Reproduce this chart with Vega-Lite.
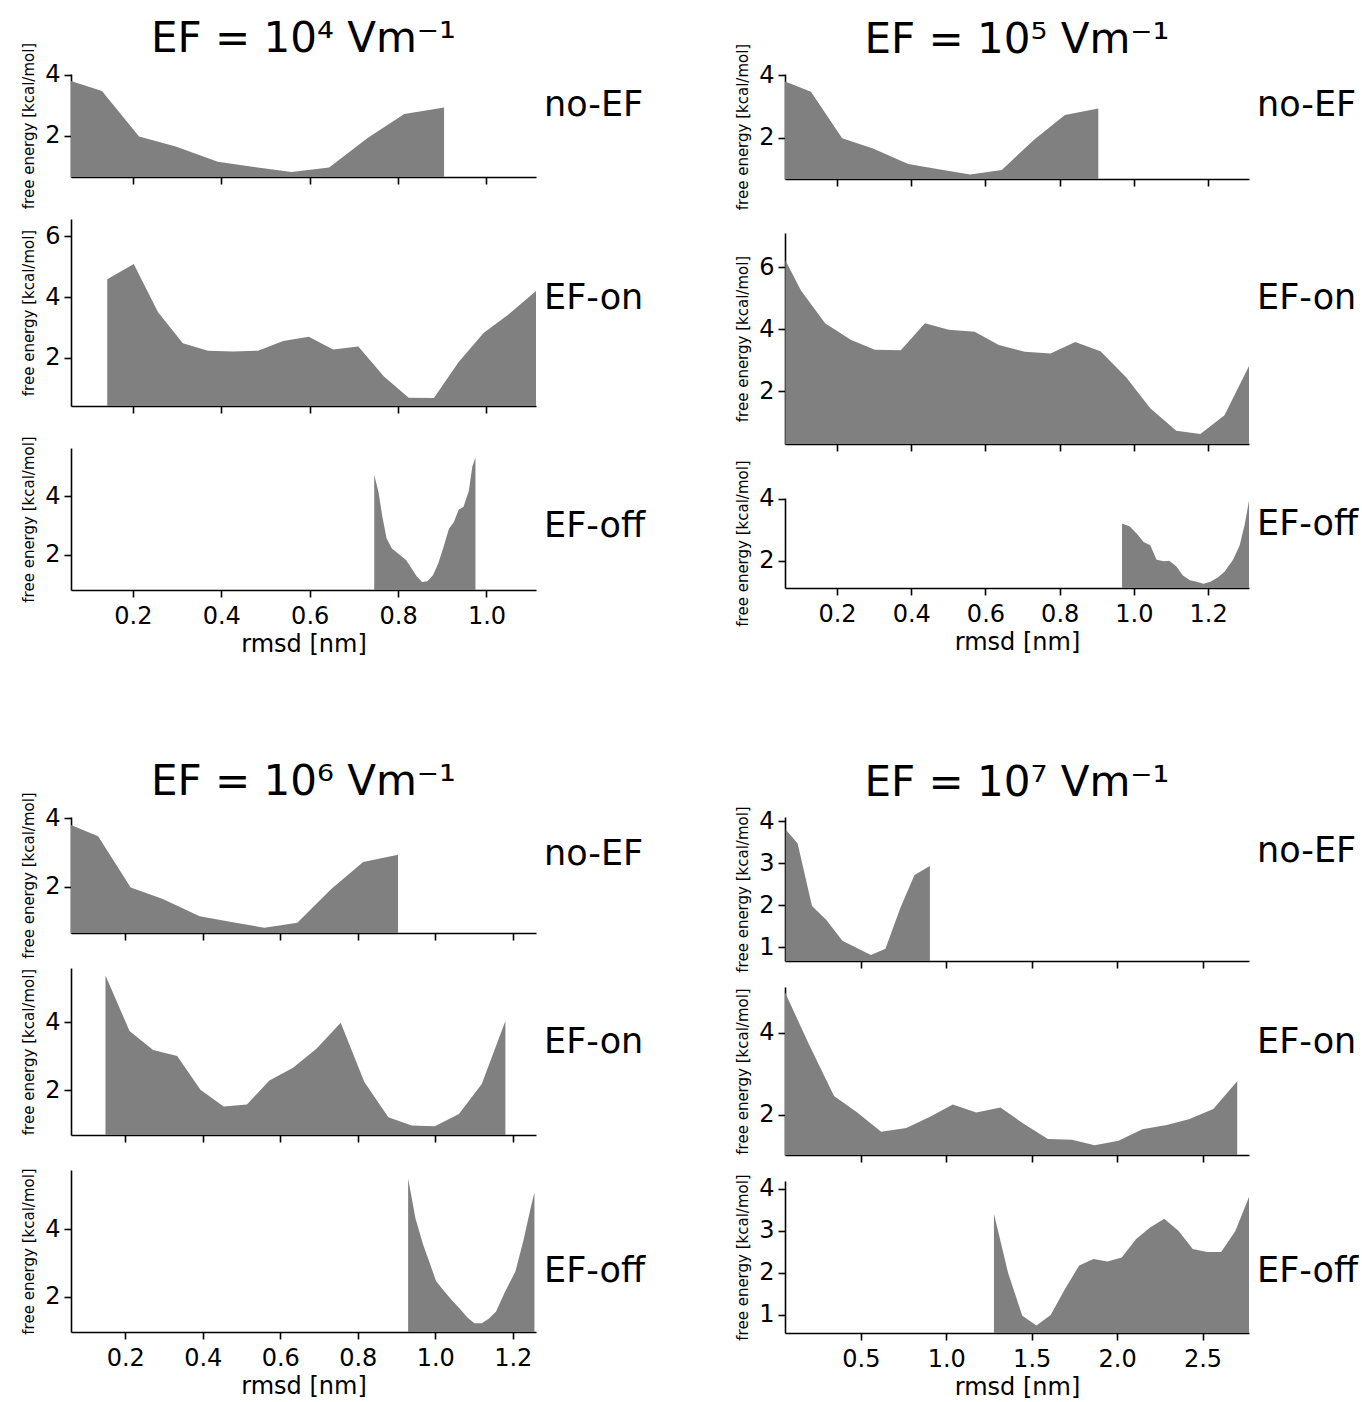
{
  "$schema": "https://vega.github.io/schema/vega-lite/v6.json",
  "padding": {"left": 21, "top": 18, "right": 0, "bottom": 0},
  "background": "white",
  "datasets": {
    "noEF": [
      {"rmsd": 0.06, "fe": 3.80}, {"rmsd": 0.13, "fe": 3.47}, {"rmsd": 0.214, "fe": 1.98}, {"rmsd": 0.297, "fe": 1.65},
      {"rmsd": 0.392, "fe": 1.15}, {"rmsd": 0.474, "fe": 0.98}, {"rmsd": 0.559, "fe": 0.81}, {"rmsd": 0.644, "fe": 0.96},
      {"rmsd": 0.731, "fe": 1.93}, {"rmsd": 0.814, "fe": 2.72}, {"rmsd": 0.904, "fe": 2.93}
    ],
    "ef4on": [
      {"rmsd": 0.142, "fe": 4.59}, {"rmsd": 0.202, "fe": 5.09}, {"rmsd": 0.257, "fe": 3.5}, {"rmsd": 0.313, "fe": 2.48},
      {"rmsd": 0.37, "fe": 2.24}, {"rmsd": 0.427, "fe": 2.21}, {"rmsd": 0.483, "fe": 2.24}, {"rmsd": 0.54, "fe": 2.56},
      {"rmsd": 0.598, "fe": 2.7}, {"rmsd": 0.653, "fe": 2.28}, {"rmsd": 0.71, "fe": 2.38}, {"rmsd": 0.768, "fe": 1.39},
      {"rmsd": 0.824, "fe": 0.69}, {"rmsd": 0.881, "fe": 0.68}, {"rmsd": 0.937, "fe": 1.87}, {"rmsd": 0.994, "fe": 2.83},
      {"rmsd": 1.049, "fe": 3.42}, {"rmsd": 1.112, "fe": 4.2}
    ],
    "ef4off": [
      {"rmsd": 0.746, "fe": 4.72}, {"rmsd": 0.756, "fe": 4.11}, {"rmsd": 0.764, "fe": 3.33}, {"rmsd": 0.774, "fe": 2.56},
      {"rmsd": 0.786, "fe": 2.22}, {"rmsd": 0.802, "fe": 2.02}, {"rmsd": 0.818, "fe": 1.83}, {"rmsd": 0.83, "fe": 1.56},
      {"rmsd": 0.842, "fe": 1.28}, {"rmsd": 0.854, "fe": 1.08}, {"rmsd": 0.866, "fe": 1.11}, {"rmsd": 0.879, "fe": 1.31},
      {"rmsd": 0.891, "fe": 1.72}, {"rmsd": 0.903, "fe": 2.28}, {"rmsd": 0.915, "fe": 2.89}, {"rmsd": 0.926, "fe": 3.11},
      {"rmsd": 0.937, "fe": 3.53}, {"rmsd": 0.948, "fe": 3.64}, {"rmsd": 0.96, "fe": 4.17}, {"rmsd": 0.968, "fe": 5.0},
      {"rmsd": 0.975, "fe": 5.31}
    ],
    "ef5on": [
      {"rmsd": 0.061, "fe": 6.22}, {"rmsd": 0.103, "fe": 5.25}, {"rmsd": 0.168, "fe": 4.19}, {"rmsd": 0.237, "fe": 3.66},
      {"rmsd": 0.302, "fe": 3.34}, {"rmsd": 0.372, "fe": 3.32}, {"rmsd": 0.437, "fe": 4.19}, {"rmsd": 0.501, "fe": 3.98},
      {"rmsd": 0.571, "fe": 3.92}, {"rmsd": 0.636, "fe": 3.49}, {"rmsd": 0.706, "fe": 3.27}, {"rmsd": 0.775, "fe": 3.22},
      {"rmsd": 0.842, "fe": 3.59}, {"rmsd": 0.91, "fe": 3.29}, {"rmsd": 0.979, "fe": 2.45}, {"rmsd": 1.044, "fe": 1.45},
      {"rmsd": 1.114, "fe": 0.73}, {"rmsd": 1.179, "fe": 0.62}, {"rmsd": 1.244, "fe": 1.23}, {"rmsd": 1.31, "fe": 2.81}
    ],
    "ef5off": [
      {"rmsd": 0.968, "fe": 3.2}, {"rmsd": 0.989, "fe": 3.1}, {"rmsd": 1.009, "fe": 2.85}, {"rmsd": 1.026, "fe": 2.6},
      {"rmsd": 1.044, "fe": 2.5}, {"rmsd": 1.061, "fe": 2.03}, {"rmsd": 1.081, "fe": 1.98}, {"rmsd": 1.095, "fe": 2.0},
      {"rmsd": 1.114, "fe": 1.82}, {"rmsd": 1.132, "fe": 1.52}, {"rmsd": 1.151, "fe": 1.37}, {"rmsd": 1.169, "fe": 1.32},
      {"rmsd": 1.188, "fe": 1.26}, {"rmsd": 1.206, "fe": 1.32}, {"rmsd": 1.225, "fe": 1.45}, {"rmsd": 1.244, "fe": 1.64},
      {"rmsd": 1.267, "fe": 2.03}, {"rmsd": 1.285, "fe": 2.5}, {"rmsd": 1.299, "fe": 3.2}, {"rmsd": 1.31, "fe": 3.93}
    ],
    "ef6on": [
      {"rmsd": 0.149, "fe": 5.37}, {"rmsd": 0.211, "fe": 3.74}, {"rmsd": 0.272, "fe": 3.18}, {"rmsd": 0.334, "fe": 3.0},
      {"rmsd": 0.394, "fe": 2.01}, {"rmsd": 0.454, "fe": 1.52}, {"rmsd": 0.514, "fe": 1.58}, {"rmsd": 0.572, "fe": 2.28},
      {"rmsd": 0.633, "fe": 2.66}, {"rmsd": 0.694, "fe": 3.22}, {"rmsd": 0.756, "fe": 3.98}, {"rmsd": 0.817, "fe": 2.24},
      {"rmsd": 0.879, "fe": 1.2}, {"rmsd": 0.939, "fe": 0.96}, {"rmsd": 0.999, "fe": 0.94}, {"rmsd": 1.061, "fe": 1.3},
      {"rmsd": 1.12, "fe": 2.18}, {"rmsd": 1.181, "fe": 4.03}
    ],
    "ef6off": [
      {"rmsd": 0.93, "fe": 5.51}, {"rmsd": 0.949, "fe": 4.32}, {"rmsd": 0.969, "fe": 3.54}, {"rmsd": 0.986, "fe": 3.0},
      {"rmsd": 1.002, "fe": 2.47}, {"rmsd": 1.021, "fe": 2.2}, {"rmsd": 1.043, "fe": 1.9}, {"rmsd": 1.064, "fe": 1.64},
      {"rmsd": 1.083, "fe": 1.39}, {"rmsd": 1.101, "fe": 1.22}, {"rmsd": 1.12, "fe": 1.22}, {"rmsd": 1.138, "fe": 1.35},
      {"rmsd": 1.157, "fe": 1.57}, {"rmsd": 1.178, "fe": 2.1}, {"rmsd": 1.207, "fe": 2.76}, {"rmsd": 1.228, "fe": 3.69},
      {"rmsd": 1.244, "fe": 4.52}, {"rmsd": 1.256, "fe": 5.1}
    ],
    "ef7on": [
      {"rmsd": 0.056, "fe": 4.99}, {"rmsd": 0.196, "fe": 3.72}, {"rmsd": 0.343, "fe": 2.46}, {"rmsd": 0.479, "fe": 2.06},
      {"rmsd": 0.619, "fe": 1.59}, {"rmsd": 0.766, "fe": 1.68}, {"rmsd": 0.908, "fe": 1.96}, {"rmsd": 1.038, "fe": 2.25},
      {"rmsd": 1.176, "fe": 2.06}, {"rmsd": 1.317, "fe": 2.18}, {"rmsd": 1.453, "fe": 1.78}, {"rmsd": 1.595, "fe": 1.41},
      {"rmsd": 1.736, "fe": 1.39}, {"rmsd": 1.868, "fe": 1.26}, {"rmsd": 2.008, "fe": 1.37}, {"rmsd": 2.148, "fe": 1.65},
      {"rmsd": 2.29, "fe": 1.75}, {"rmsd": 2.42, "fe": 1.89}, {"rmsd": 2.563, "fe": 2.14}, {"rmsd": 2.703, "fe": 2.82}
    ],
    "ef7off": [
      {"rmsd": 1.279, "fe": 3.41}, {"rmsd": 1.362, "fe": 2.0}, {"rmsd": 1.445, "fe": 0.98}, {"rmsd": 1.528, "fe": 0.75},
      {"rmsd": 1.611, "fe": 1.0}, {"rmsd": 1.695, "fe": 1.62}, {"rmsd": 1.778, "fe": 2.18}, {"rmsd": 1.861, "fe": 2.33},
      {"rmsd": 1.944, "fe": 2.27}, {"rmsd": 2.027, "fe": 2.37}, {"rmsd": 2.11, "fe": 2.8}, {"rmsd": 2.193, "fe": 3.08},
      {"rmsd": 2.276, "fe": 3.29}, {"rmsd": 2.36, "fe": 3.0}, {"rmsd": 2.443, "fe": 2.57}, {"rmsd": 2.526, "fe": 2.5},
      {"rmsd": 2.609, "fe": 2.5}, {"rmsd": 2.692, "fe": 3.0}, {"rmsd": 2.772, "fe": 3.81}
    ]
  },
  "vconcat": [
    {
      "hconcat": [
        {
          "title": {"text": "EF = 10⁴ Vm⁻¹", "fontSize": 42, "anchor": "middle", "offset": 8, "dx": -30, "dy": 27},
          "spacing": 42, "bounds": "flush",
          "vconcat": [
            {"width": 465, "height": 103, "data": {"name": "noEF"},
             "mark": {"type": "area", "color": "#808080", "clip": true},
             "encoding": {
               "x": {"field": "rmsd", "type": "quantitative", "scale": {"domain": [0.06, 1.112], "nice": false, "zero": false}, "axis": {"values": [0.2, 0.4, 0.6, 0.8, 1.0], "labels": false, "title": null}},
               "y": {"field": "fe", "type": "quantitative", "scale": {"domain": [0.65, 4.03], "nice": false, "zero": false}, "axis": {"values": [2, 4], "title": "free energy [kcal/mol]"}}},
             "title": {"text": "no-EF", "orient": "right", "angle": 0, "align": "left", "baseline": "middle", "anchor": "middle", "fontSize": 35, "offset": 10, "dx": -101, "dy": -21}},
            {"width": 465, "height": 187, "data": {"name": "ef4on"},
             "mark": {"type": "area", "color": "#808080", "clip": true},
             "encoding": {
               "x": {"field": "rmsd", "type": "quantitative", "scale": {"domain": [0.06, 1.112], "nice": false, "zero": false}, "axis": {"values": [0.2, 0.4, 0.6, 0.8, 1.0], "labels": false, "title": null}},
               "y": {"field": "fe", "type": "quantitative", "scale": {"domain": [0.42, 6.57], "nice": false, "zero": false}, "axis": {"values": [2, 4, 6], "title": "free energy [kcal/mol]"}}},
             "title": {"text": "EF-on", "orient": "right", "angle": 0, "align": "left", "baseline": "middle", "anchor": "middle", "fontSize": 35, "offset": 10, "dx": -101, "dy": -15}},
            {"width": 465, "height": 142, "data": {"name": "ef4off"},
             "mark": {"type": "area", "color": "#808080", "clip": true},
             "encoding": {
               "x": {"field": "rmsd", "type": "quantitative", "scale": {"domain": [0.06, 1.112], "nice": false, "zero": false}, "axis": {"values": [0.2, 0.4, 0.6, 0.8, 1.0], "format": ".1f", "title": "rmsd [nm]"}},
               "y": {"field": "fe", "type": "quantitative", "scale": {"domain": [0.81, 5.63], "nice": false, "zero": false}, "axis": {"values": [2, 4], "title": "free energy [kcal/mol]"}}},
             "title": {"text": "EF-off", "orient": "right", "angle": 0, "align": "left", "baseline": "middle", "anchor": "middle", "fontSize": 35, "offset": 8, "dx": -101, "dy": 7}}
          ]
        },
        {
          "title": {"text": "EF = 10⁵ Vm⁻¹", "fontSize": 42, "anchor": "middle", "offset": 8, "dx": -30, "dy": 27},
          "spacing": 54, "bounds": "flush",
          "vconcat": [
            {"width": 464, "height": 105, "data": {"name": "noEF"},
             "mark": {"type": "area", "color": "#808080", "clip": true},
             "encoding": {
               "x": {"field": "rmsd", "type": "quantitative", "scale": {"domain": [0.06, 1.31], "nice": false, "zero": false}, "axis": {"values": [0.2, 0.4, 0.6, 0.8, 1.0, 1.2], "labels": false, "title": null}},
               "y": {"field": "fe", "type": "quantitative", "scale": {"domain": [0.667, 4.04], "nice": false, "zero": false}, "axis": {"values": [2, 4], "title": "free energy [kcal/mol]"}}},
             "title": {"text": "no-EF", "orient": "right", "angle": 0, "align": "left", "baseline": "middle", "anchor": "middle", "fontSize": 35, "offset": 10, "dx": -101, "dy": -22}},
            {"width": 464, "height": 211, "data": {"name": "ef5on"},
             "mark": {"type": "area", "color": "#808080", "clip": true},
             "encoding": {
               "x": {"field": "rmsd", "type": "quantitative", "scale": {"domain": [0.06, 1.31], "nice": false, "zero": false}, "axis": {"values": [0.2, 0.4, 0.6, 0.8, 1.0, 1.2], "labels": false, "title": null}},
               "y": {"field": "fe", "type": "quantitative", "scale": {"domain": [0.3, 7.1], "nice": false, "zero": false}, "axis": {"values": [2, 4, 6], "title": "free energy [kcal/mol]"}}},
             "title": {"text": "EF-on", "orient": "right", "angle": 0, "align": "left", "baseline": "middle", "anchor": "middle", "fontSize": 35, "offset": 10, "dx": -101, "dy": -41}},
            {"width": 464, "height": 90, "data": {"name": "ef5off"},
             "mark": {"type": "area", "color": "#808080", "clip": true},
             "encoding": {
               "x": {"field": "rmsd", "type": "quantitative", "scale": {"domain": [0.06, 1.31], "nice": false, "zero": false}, "axis": {"values": [0.2, 0.4, 0.6, 0.8, 1.0, 1.2], "format": ".1f", "title": "rmsd [nm]"}},
               "y": {"field": "fe", "type": "quantitative", "scale": {"domain": [1.12, 4.02], "nice": false, "zero": false}, "axis": {"values": [2, 4], "title": "free energy [kcal/mol]"}}},
             "title": {"text": "EF-off", "orient": "right", "angle": 0, "align": "left", "baseline": "middle", "anchor": "middle", "fontSize": 35, "offset": 8, "dx": -101, "dy": -19}}
          ]
        }
      ],
      "spacing": 89
    },
    {
      "hconcat": [
        {
          "title": {"text": "EF = 10⁶ Vm⁻¹", "fontSize": 42, "anchor": "middle", "offset": 8, "dx": -30, "dy": 20},
          "spacing": 35, "bounds": "flush",
          "vconcat": [
            {"width": 465, "height": 116, "data": {"name": "noEF"},
             "mark": {"type": "area", "color": "#808080", "clip": true},
             "encoding": {
               "x": {"field": "rmsd", "type": "quantitative", "scale": {"domain": [0.06, 1.26], "nice": false, "zero": false}, "axis": {"values": [0.2, 0.4, 0.6, 0.8, 1.0, 1.2], "labels": false, "title": null}},
               "y": {"field": "fe", "type": "quantitative", "scale": {"domain": [0.66, 4.03], "nice": false, "zero": false}, "axis": {"values": [2, 4], "title": "free energy [kcal/mol]"}}},
             "title": {"text": "no-EF", "orient": "right", "angle": 0, "align": "left", "baseline": "middle", "anchor": "middle", "fontSize": 35, "offset": 10, "dx": -101, "dy": -21}},
            {"width": 465, "height": 167, "data": {"name": "ef6on"},
             "mark": {"type": "area", "color": "#808080", "clip": true},
             "encoding": {
               "x": {"field": "rmsd", "type": "quantitative", "scale": {"domain": [0.06, 1.26], "nice": false, "zero": false}, "axis": {"values": [0.2, 0.4, 0.6, 0.8, 1.0, 1.2], "labels": false, "title": null}},
               "y": {"field": "fe", "type": "quantitative", "scale": {"domain": [0.68, 5.59], "nice": false, "zero": false}, "axis": {"values": [2, 4], "title": "free energy [kcal/mol]"}}},
             "title": {"text": "EF-on", "orient": "right", "angle": 0, "align": "left", "baseline": "middle", "anchor": "middle", "fontSize": 35, "offset": 10, "dx": -101, "dy": -10}},
            {"width": 465, "height": 162, "data": {"name": "ef6off"},
             "mark": {"type": "area", "color": "#808080", "clip": true},
             "encoding": {
               "x": {"field": "rmsd", "type": "quantitative", "scale": {"domain": [0.06, 1.26], "nice": false, "zero": false}, "axis": {"values": [0.2, 0.4, 0.6, 0.8, 1.0, 1.2], "format": ".1f", "title": "rmsd [nm]"}},
               "y": {"field": "fe", "type": "quantitative", "scale": {"domain": [0.96, 5.76], "nice": false, "zero": false}, "axis": {"values": [2, 4], "title": "free energy [kcal/mol]"}}},
             "title": {"text": "EF-off", "orient": "right", "angle": 0, "align": "left", "baseline": "middle", "anchor": "middle", "fontSize": 35, "offset": 8, "dx": -101, "dy": 20}}
          ]
        },
        {
          "title": {"text": "EF = 10⁷ Vm⁻¹", "fontSize": 42, "anchor": "middle", "offset": 8, "dx": -30, "dy": 7},
          "spacing": 26, "bounds": "flush",
          "vconcat": [
            {"width": 464, "height": 144, "data": {"name": "noEF"},
             "mark": {"type": "area", "color": "#808080", "clip": true},
             "encoding": {
               "x": {"field": "rmsd", "type": "quantitative", "scale": {"domain": [0.056, 2.772], "nice": false, "zero": false}, "axis": {"values": [0.5, 1.0, 1.5, 2.0, 2.5], "labels": false, "title": null}},
               "y": {"field": "fe", "type": "quantitative", "scale": {"domain": [0.667, 4.1], "nice": false, "zero": false}, "axis": {"values": [1, 2, 3, 4], "title": "free energy [kcal/mol]"}}},
             "title": {"text": "no-EF", "orient": "right", "angle": 0, "align": "left", "baseline": "middle", "anchor": "middle", "fontSize": 35, "offset": 10, "dx": -101, "dy": -38}},
            {"width": 464, "height": 168, "data": {"name": "ef7on"},
             "mark": {"type": "area", "color": "#808080", "clip": true},
             "encoding": {
               "x": {"field": "rmsd", "type": "quantitative", "scale": {"domain": [0.056, 2.772], "nice": false, "zero": false}, "axis": {"values": [0.5, 1.0, 1.5, 2.0, 2.5], "labels": false, "title": null}},
               "y": {"field": "fe", "type": "quantitative", "scale": {"domain": [1.02, 5.12], "nice": false, "zero": false}, "axis": {"values": [2, 4], "title": "free energy [kcal/mol]"}}},
             "title": {"text": "EF-on", "orient": "right", "angle": 0, "align": "left", "baseline": "middle", "anchor": "middle", "fontSize": 35, "offset": 10, "dx": -101, "dy": -29}},
            {"width": 464, "height": 152, "data": {"name": "ef7off"},
             "mark": {"type": "area", "color": "#808080", "clip": true},
             "encoding": {
               "x": {"field": "rmsd", "type": "quantitative", "scale": {"domain": [0.056, 2.772], "nice": false, "zero": false}, "axis": {"values": [0.5, 1.0, 1.5, 2.0, 2.5], "format": ".1f", "title": "rmsd [nm]"}},
               "y": {"field": "fe", "type": "quantitative", "scale": {"domain": [0.57, 4.19], "nice": false, "zero": false}, "axis": {"values": [1, 2, 3, 4], "title": "free energy [kcal/mol]"}}},
             "title": {"text": "EF-off", "orient": "right", "angle": 0, "align": "left", "baseline": "middle", "anchor": "middle", "fontSize": 35, "offset": 8, "dx": -101, "dy": 14}}
          ]
        }
      ],
      "spacing": 89
    }
  ],
  "spacing": 104,
  "config": {
    "font": "DejaVu Sans",
    "view": {"stroke": null},
    "axis": {"domainColor": "#000000", "domainWidth": 1.6, "tickColor": "#000000", "tickWidth": 1.6, "tickSize": 7, "labelColor": "#000000", "labelFontSize": 24, "labelFont": "DejaVu Sans", "titleColor": "#000000", "titleFont": "DejaVu Sans", "titleFontWeight": "normal", "grid": false, "labelPadding": 4},
    "axisY": {"titleFontSize": 15, "titlePadding": 8},
    "axisX": {"titleFontSize": 24, "titlePadding": 4, "labelPadding": 7},
    "title": {"font": "DejaVu Sans", "fontWeight": "normal", "color": "#000000"}
  }
}
